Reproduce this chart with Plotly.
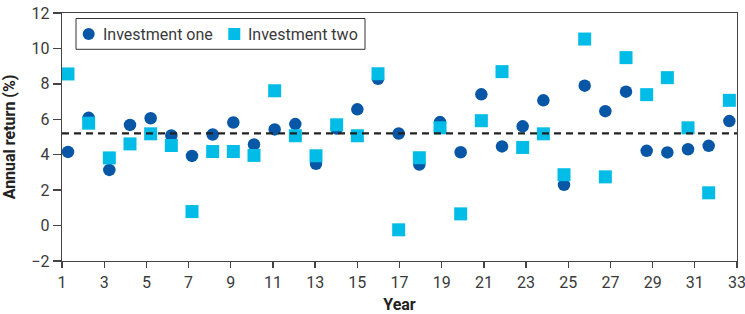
import plotly.graph_objects as go

years = list(range(1, 34))
investment_one = [4.16, 6.08, 3.14, 5.68, 6.06, 5.09, 3.93, 5.14, 5.82, 4.58,
                  5.43, 5.73, 3.49, 5.48, 6.56, 8.29, 5.20, 3.45, 5.84, 4.14,
                  7.41, 4.47, 5.60, 7.07, 2.30, 7.90, 6.46, 7.56, 4.22, 4.13,
                  4.31, 4.50, 5.90]
investment_two = [8.56, 5.78, 3.82, 4.61, 5.18, 4.52, 0.79, 4.18, 4.18, 3.96,
                  7.61, 5.07, 3.94, 5.69, 5.07, 8.57, -0.24, 3.83, 5.52, 0.66,
                  5.92, 8.69, 4.41, 5.18, 2.87, 10.53, 2.75, 9.48, 7.39, 8.35,
                  5.52, 1.85, 7.07]
series_names = ["Investment one", "Investment two"]
mean_line = 5.2
x_ticks = list(range(1, 34, 2))
y_ticks = list(range(-2, 13, 2))

DARK = "#0757a6"
CYAN = "#00bce6"
FONT = "Roboto"
AX = "#444444"

W, H = 745, 314
ML, MR, MT, MB = 62, 8, 13, 53
PW, PH = W - ML - MR, H - MT - MB


def px(x):
    return (x - ML) / PW


def py(y):
    return 1 - (y - MT) / PH


fig = go.Figure()
fig.add_trace(go.Scatter(
    x=[years[0], years[-1]], y=[mean_line, mean_line], mode="lines",
    line=dict(color="#222222", width=2.2, dash="7px,5px"),
    xaxis="x2", showlegend=False, hoverinfo="skip"))
fig.add_trace(go.Scatter(
    x=years, y=investment_one, mode="markers", name=series_names[0],
    showlegend=False,
    marker=dict(symbol="circle", size=12.5, color=DARK, line=dict(width=0))))
fig.add_trace(go.Scatter(
    x=years, y=investment_two, mode="markers", name=series_names[1],
    showlegend=False,
    marker=dict(symbol="square", size=13, color=CYAN, line=dict(width=0))))

# custom legend box
shapes = [
    dict(type="rect", xref="paper", yref="paper",
         x0=px(76), x1=px(365), y0=py(18.5), y1=py(49.3),
         line=dict(color="#333333", width=1), fillcolor="white", layer="above"),
    dict(type="circle", xref="paper", yref="paper",
         x0=px(82.7), x1=px(94.7), y0=py(28), y1=py(40),
         line=dict(width=0), fillcolor=DARK, layer="above"),
    dict(type="rect", xref="paper", yref="paper",
         x0=px(228.3), x1=px(240.3), y0=py(28), y1=py(40),
         line=dict(width=0), fillcolor=CYAN, layer="above"),
]
annotations = [
    dict(text=series_names[0], xref="paper", yref="paper", x=px(100.5), y=py(34),
         xanchor="left", yanchor="middle", showarrow=False,
         font=dict(family=FONT, size=16, color="#3a3a3a")),
    dict(text=series_names[1], xref="paper", yref="paper", x=px(245.5), y=py(34),
         xanchor="left", yanchor="middle", showarrow=False,
         font=dict(family=FONT, size=16, color="#3a3a3a")),
]

fig.update_layout(
    width=W, height=H,
    margin=dict(l=ML, r=MR, t=MT, b=MB, pad=0),
    paper_bgcolor="white", plot_bgcolor="white",
    showlegend=False,
    shapes=shapes, annotations=annotations,
    font=dict(family=FONT, size=16, color="#3a3a3a"),
    xaxis=dict(range=[0.71, 33.37], visible=False, showgrid=False,
               zeroline=False, automargin=False),
    xaxis2=dict(overlaying="x", side="bottom", anchor="y", range=[1, 33],
                tickmode="array", tickvals=x_ticks, automargin=False,
                ticklabeloverflow="allow",
                showline=True, linecolor=AX, linewidth=1.3, mirror=True,
                ticks="outside", ticklen=6, tickcolor=AX, tickwidth=1.3,
                showgrid=False, zeroline=False,
                tickfont=dict(family=FONT, size=16, color="#3a3a3a"),
                title=dict(text="<b>Year</b>", standoff=8,
                           font=dict(family=FONT, size=16, color="#222222"))),
    yaxis=dict(range=[-2, 12], tickmode="array", tickvals=y_ticks, automargin=False,
               ticklabeloverflow="allow",
               showline=True, linecolor=AX, linewidth=1.3, mirror=True,
               ticks="outside", ticklen=8, tickcolor=AX, tickwidth=1.3,
               showgrid=False, zeroline=False,
               tickfont=dict(family=FONT, size=16, color="#3a3a3a"),
               title=dict(text="<b>Annual return (%)</b>", standoff=11,
                          font=dict(family=FONT, size=16, color="#222222"))),
)

fig.write_html("out.html",
               config={"displayModeBar": False, "staticPlot": True},
               post_script="document.body.style.margin='0';"
                           "document.body.style.overflow='hidden';")
